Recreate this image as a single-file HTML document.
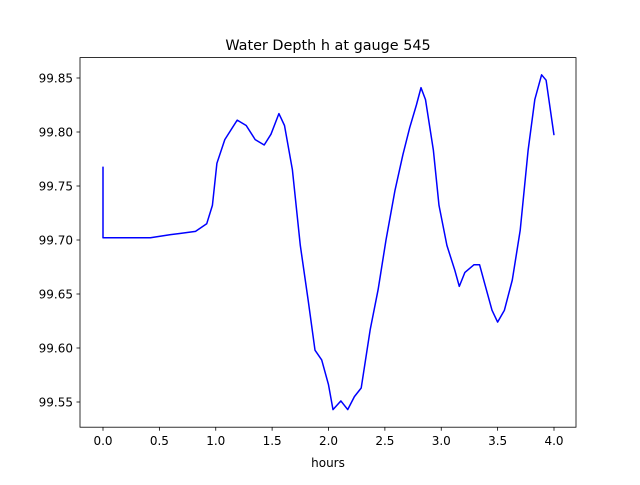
<!DOCTYPE html>
<html><head><meta charset="utf-8"><style>
body{margin:0;background:#fff}
svg text{font-family:"DejaVu Sans","Liberation Sans",sans-serif;fill:#000}
</style></head><body>
<svg id="chart" width="640" height="480" viewBox="0 0 640 480">
<rect width="640" height="480" fill="#fff"/>
<text x="328" y="50" font-size="14.4" text-anchor="middle">Water Depth h at gauge 545</text>
<g id="plot"></g>
<rect x="80" y="57.6" width="496" height="369.6" fill="none" stroke="#000" stroke-width="0.8"/>
<text x="328" y="467" font-size="12" text-anchor="middle">hours</text>
</svg>
<script>
const hours=[0,0,0.42,0.6,0.68,0.82,0.92,0.97,1.01,1.08,1.19,1.27,1.35,1.43,1.49,1.56,1.61,1.68,1.75,1.82,1.88,1.94,2.0,2.04,2.11,2.17,2.23,2.29,2.37,2.44,2.51,2.59,2.66,2.72,2.78,2.82,2.86,2.93,2.98,3.05,3.12,3.16,3.21,3.29,3.34,3.39,3.45,3.50,3.56,3.63,3.70,3.77,3.83,3.89,3.93,4.0];
const depth=[99.768,99.702,99.702,99.705,99.706,99.708,99.715,99.732,99.771,99.793,99.811,99.806,99.793,99.788,99.798,99.817,99.806,99.765,99.695,99.644,99.598,99.589,99.566,99.543,99.551,99.543,99.555,99.563,99.617,99.654,99.700,99.746,99.779,99.804,99.825,99.841,99.830,99.783,99.732,99.695,99.672,99.657,99.670,99.677,99.677,99.658,99.635,99.624,99.635,99.663,99.709,99.783,99.830,99.853,99.848,99.797];
const xTicks=[0,0.5,1.0,1.5,2.0,2.5,3.0,3.5,4.0];
const xTickLabels=["0.0","0.5","1.0","1.5","2.0","2.5","3.0","3.5","4.0"];
const yTicks=[99.55,99.60,99.65,99.70,99.75,99.80,99.85];
const yTickLabels=["99.55","99.60","99.65","99.70","99.75","99.80","99.85"];
const ns="http://www.w3.org/2000/svg";
const g=document.getElementById('plot');
function xs(t){return 103+112.75*t;}
function ys(v){return 402-(v-99.55)*1080;}
function mk(tag,attrs){const e=document.createElementNS(ns,tag);for(const k in attrs)e.setAttribute(k,attrs[k]);g.appendChild(e);return e;}
xTicks.forEach((t,i)=>{
 const l=mk('line',{x1:xs(t),x2:xs(t),y1:427.2,y2:430.7,stroke:'#000','stroke-width':0.8});
 
 
 const tx=mk('text',{x:xs(t),y:445,'font-size':12,'text-anchor':'middle'});
 tx.textContent=xTickLabels[i];
 
 
});
yTicks.forEach((v,i)=>{
 const l=mk('line',{x1:76.5,x2:80,y1:ys(v),y2:ys(v),stroke:'#000','stroke-width':0.8});
 
 
 const tx=mk('text',{x:73,y:ys(v)+4.5,'font-size':12,'text-anchor':'end'});
 tx.textContent=yTickLabels[i];
 
 
});
const pts=hours.map((t,i)=>xs(t).toFixed(1)+','+ys(depth[i]).toFixed(1)).join(' ');
const line=mk('polyline',{points:pts,fill:'none',stroke:'#0000ff','stroke-width':1.5,'stroke-linejoin':'round'});


</script>
</body></html>
